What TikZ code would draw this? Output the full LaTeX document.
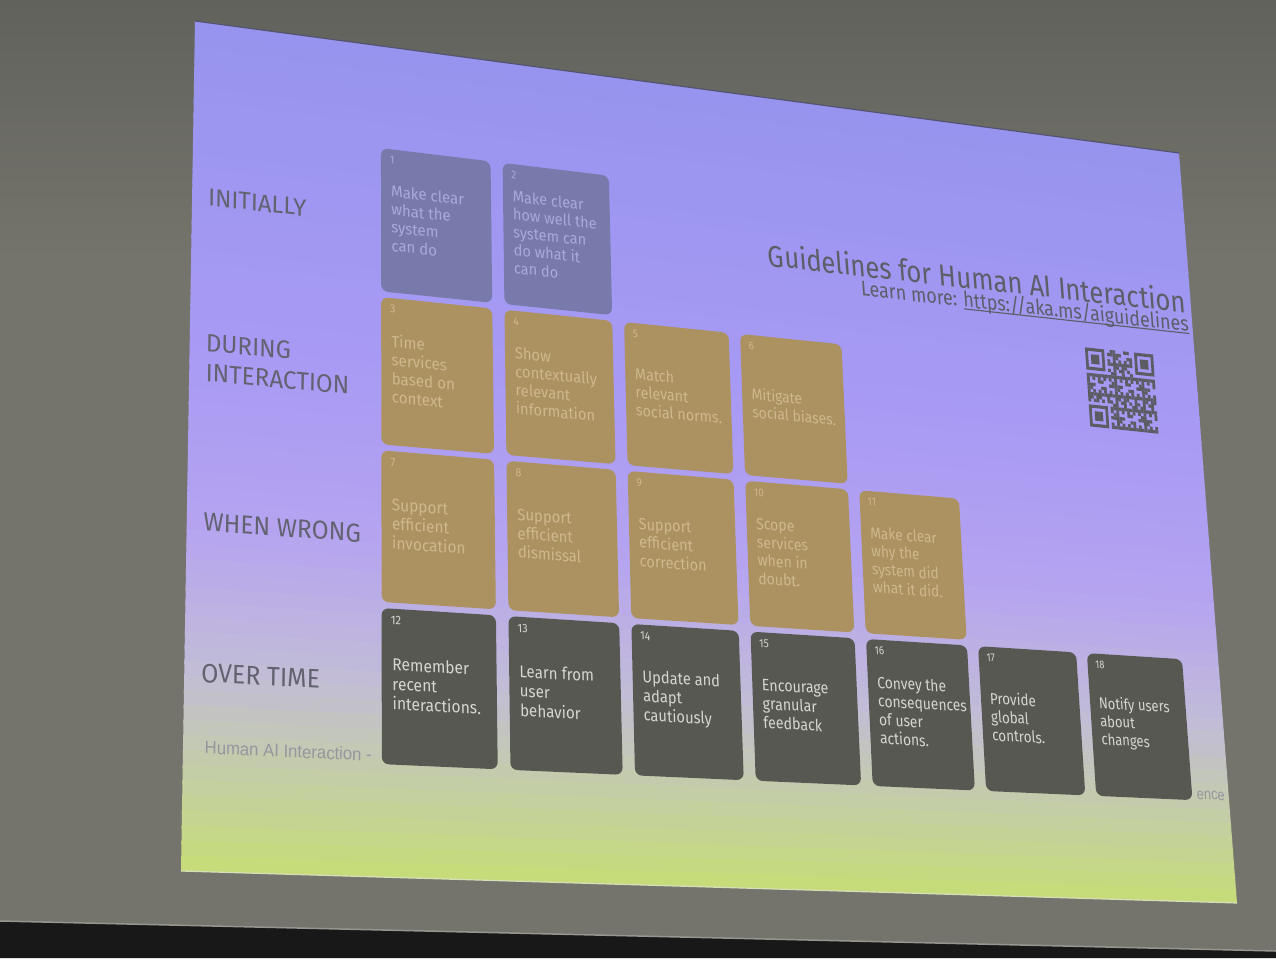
\documentclass[tikz,border=0pt]{standalone}
\usepackage{fontspec}
\usepackage{xfp}
\setmainfont{Fira Sans}
\newfontfamily\footfont{Liberation Sans}

% ---------- colours ----------
\definecolor{wallbase}{RGB}{116,116,108}
\definecolor{walltop}{RGB}{98,98,93}
\definecolor{floorbar}{RGB}{24,24,24}
\definecolor{floorline}{RGB}{150,150,144}
\definecolor{edgetop}{RGB}{84,84,112}
\definecolor{edgebottom}{RGB}{214,224,184}
\definecolor{cardblue}{RGB}{120,122,172}
\definecolor{inkblue}{RGB}{170,170,218}
\definecolor{cardtan}{RGB}{172,146,96}
\definecolor{inktan}{RGB}{206,184,142}
\definecolor{cardgrey}{RGB}{88,88,83}
\definecolor{inkgrey}{RGB}{214,214,206}
\definecolor{labelink}{RGB}{98,98,112}
\definecolor{titleink}{RGB}{94,94,104}
\definecolor{footink}{RGB}{150,150,158}
\definecolor{qrink}{RGB}{92,92,100}

% ---------- projected screen: corners in pixels (x right, y down) ----------
\def\TLx{195}\def\TLy{21}
\def\TRx{1179}\def\TRy{153}
\def\BRx{1237}\def\BRy{903}
\def\BLx{181}\def\BLy{871}

% homography taking the unit square (u right, v down) onto the screen
\edef\dxA{\fpeval{(\TRx)-(\BRx)}}
\edef\dxB{\fpeval{(\BLx)-(\BRx)}}
\edef\dxC{\fpeval{(\TLx)-(\TRx)+(\BRx)-(\BLx)}}
\edef\dyA{\fpeval{(\TRy)-(\BRy)}}
\edef\dyB{\fpeval{(\BLy)-(\BRy)}}
\edef\dyC{\fpeval{(\TLy)-(\TRy)+(\BRy)-(\BLy)}}
\edef\Hden{\fpeval{(\dxA)*(\dyB)-(\dxB)*(\dyA)}}
\edef\Hg{\fpeval{((\dxC)*(\dyB)-(\dxB)*(\dyC))/(\Hden)}}
\edef\Hh{\fpeval{((\dxA)*(\dyC)-(\dxC)*(\dyA))/(\Hden)}}
\edef\Ha{\fpeval{(\TRx)-(\TLx)+(\Hg)*(\TRx)}}
\edef\Hb{\fpeval{(\BLx)-(\TLx)+(\Hh)*(\BLx)}}
\edef\Hd{\fpeval{(\TRy)-(\TLy)+(\Hg)*(\TRy)}}
\edef\He{\fpeval{(\BLy)-(\TLy)+(\Hh)*(\BLy)}}

% (u,v) -> \hx,\hy in picture points (y up)
\newcommand\Hmap[2]{%
  \edef\Hw{\fpeval{(\Hg)*(#1)+(\Hh)*(#2)+1}}%
  \edef\hx{\fpeval{round(((\Ha)*(#1)+(\Hb)*(#2)+(\TLx))/(\Hw),4)}}%
  \edef\hy{\fpeval{round(-((\Hd)*(#1)+(\He)*(#2)+(\TLy))/(\Hw),4)}}}
% slide design units: 1000 wide, 700 high, measured from the top-left corner
\newcommand\Dmap[2]{\Hmap{(#1)/1000}{(#2)/700}}
% local affine frame at design point (X,Y): origin \ox,\oy and axes (\fa,\fb), (\fc,\fd)
\newcommand\Dframe[2]{%
  \Dmap{#1}{#2}\let\ox\hx\let\oy\hy
  \Dmap{#1+1}{#2}\edef\fa{\fpeval{(\hx)-(\ox)}}\edef\fb{\fpeval{(\hy)-(\oy)}}%
  \Dmap{#1}{#2-1}\edef\fc{\fpeval{(\hx)-(\ox)}}\edef\fd{\fpeval{(\hy)-(\oy)}}}

% background band colour, piecewise linear in v
\newcommand\ramp[3]{max(0,min(1,((#1)-(#2))/((#3)-(#2))))}
\newcommand\bandchan[7]{\fpeval{round(#2+(#3-#2)*\ramp{#1}{0}{0.40}+(#4-#3)*\ramp{#1}{0.40}{0.62}+(#5-#4)*\ramp{#1}{0.62}{0.78}+(#6-#5)*\ramp{#1}{0.78}{0.90}+(#7-#6)*\ramp{#1}{0.90}{1})}}

% link with its rule close under the baseline
\newcommand\linkline[1]{\setbox0\hbox{#1}\rlap{\rule[-2.4pt]{\wd0}{1.1pt}}\box0}

\tikzset{
  card num/.style={transform shape, inner sep=0pt, font=\fontsize{10}{12}\selectfont},
  card text/.style={transform shape, inner sep=0pt, align=left, font=\fontsize{14}{16}\selectfont},
  blue card/.style={fill=cardblue, rounded corners=7pt},
  tan card/.style={fill=cardtan, rounded corners=7pt},
  grey card/.style={fill=cardgrey, rounded corners=7pt},
  blue num/.style={card num, text=inkblue},
  tan num/.style={card num, text=inktan},
  grey num/.style={card num, text=inkgrey},
  blue text/.style={card text, text=inkblue},
  tan text/.style={card text, text=inktan},
  grey text/.style={card text, text=inkgrey},
  row label/.style={transform shape, inner sep=0pt, text=labelink, font=\fontsize{21}{22}\selectfont},
  title text/.style={transform shape, inner sep=0pt, text=titleink, font=\fontsize{29.3}{31}\selectfont},
  link text/.style={transform shape, inner sep=0pt, text=titleink, font=\fontsize{20.3}{22}\selectfont},
  foot text/.style={transform shape, inner sep=0pt, text=footink, font=\footfont\fontsize{14}{16}\selectfont},
}

% a text node standing on the slide
\newcommand\slidenode[5]{% X, Y, options, name, text
  \Dframe{#1}{#2}%
  \begin{scope}[cm={\fa,\fb,\fc,\fd,(\ox,\oy)}]
    \node[#3] (#4) at (0,0) {#5};
  \end{scope}}

% one guideline card: column, row, colour set, number, text
\newcommand\guidecard[5]{%
  \pgfmathsetmacro\cardX{170+(#1-1)*114.5}%
  \pgfmathsetmacro\cardY{92+(#2-1)*131}%
  \Dmap{\cardX}{\cardY}\coordinate (c#4nw) at (\hx,\hy);%
  \Dmap{\cardX+103}{\cardY}\coordinate (c#4ne) at (\hx,\hy);%
  \Dmap{\cardX+103}{\cardY+126}\coordinate (c#4se) at (\hx,\hy);%
  \Dmap{\cardX}{\cardY+126}\coordinate (c#4sw) at (\hx,\hy);%
  \fill[#3 card] (c#4nw) -- (c#4ne) -- (c#4se) -- (c#4sw) -- cycle;%
  \Dframe{\cardX+51.5}{\cardY+63}%
  \begin{scope}[cm={\fa,\fb,\fc,\fd,(\ox,\oy)}]
    \node[#3 num, anchor=north west] (num#4) at (-43.5,57) {#4};
    \node[#3 text, anchor=west] (txt#4) at (-42.5,2) {#5};
  \end{scope}}

\begin{document}
\begin{tikzpicture}[x=1pt,y=1pt]
\useasboundingbox (0,0) rectangle (1276,-958);

% wall around the screen
\fill[wallbase] (0,0) rectangle (1276,-958);
\shade[top color=walltop, bottom color=wallbase] (0,0) rectangle (1276,-260);
\coordinate (barL) at (0,-921);
\coordinate (barR) at (1276,-951);
\fill[floorbar] (barL) -- (barR) -- (1276,-958) -- (0,-958) -- cycle;
\draw[floorline, line width=1.5pt] (barL) -- (barR);

% projected slide background, in bands from purple to green
\foreach \i in {0,...,59}{
  \pgfmathsetmacro\va{\i/60}
  \pgfmathsetmacro\vb{min(1,(\i+1)/60+0.004)}
  \pgfmathsetmacro\vm{(\i+0.5)/60}
  \Hmap{0}{\va}\coordinate (b1) at (\hx,\hy);
  \Hmap{1}{\va}\coordinate (b2) at (\hx,\hy);
  \Hmap{1}{\vb}\coordinate (b3) at (\hx,\hy);
  \Hmap{0}{\vb}\coordinate (b4) at (\hx,\hy);
  \edef\br{\bandchan{\vm}{150}{168}{182}{194}{196}{198}}
  \edef\bg{\bandchan{\vm}{148}{154}{164}{189}{207}{220}}
  \edef\bb{\bandchan{\vm}{238}{244}{240}{214}{162}{118}}
  \definecolor{band}{RGB}{\br,\bg,\bb}
  \fill[band] (b1) -- (b2) -- (b3) -- (b4) -- cycle;
}
\Hmap{0}{0}\coordinate (s-tl) at (\hx,\hy);
\Hmap{1}{0}\coordinate (s-tr) at (\hx,\hy);
\Hmap{1}{1}\coordinate (s-br) at (\hx,\hy);
\Hmap{0}{1}\coordinate (s-bl) at (\hx,\hy);
\draw[edgetop, line width=1.2pt] (s-tl) -- (s-tr);
\draw[edgebottom, line width=1.2pt] (s-bl) -- (s-br);

% row labels
\slidenode{14}{160}{row label, anchor=base west}{initially}{INITIALLY}
\slidenode{14}{284}{row label, anchor=base west}{during}{DURING}
\slidenode{14}{309}{row label, anchor=base west}{interaction}{INTERACTION}
\slidenode{14}{432}{row label, anchor=base west}{whenwrong}{WHEN WRONG}
\slidenode{14}{553}{row label, anchor=base west}{overtime}{OVER TIME}
\slidenode{18}{609}{foot text, anchor=base west}{footer}{Human AI Interaction -}
\slidenode{965}{610}{foot text, anchor=base west}{footright}{ence}

% title and link
\slidenode{995}{158}{title text, anchor=base east}{title}{Guidelines for Human AI Interaction}
\slidenode{996}{176}{link text, anchor=base east}{learnmore}{Learn more: \linkline{https://aka.ms/aiguidelines}}

% QR code
\Dframe{877}{202}
\begin{scope}[cm={\fa,\fb,\fc,\fd,(\ox,\oy)}, x=3pt, y=3pt]
  \foreach \fx/\fy in {0/0, 18/0, 0/18}{
    \fill[qrink, even odd rule] (\fx,-\fy) rectangle ++(7,-7)
      (\fx+1,-\fy-1) rectangle ++(5,-5) (\fx+2,-\fy-2) rectangle ++(3,-3);
  }
  \foreach \i in {0,...,24}{
    \foreach \j in {0,...,24}{
      \pgfmathtruncatemacro\qzone{(\i<8 && \j<8) || (\i>16 && \j<8) || (\i<8 && \j>16)}
      \pgfmathtruncatemacro\qbit{mod(\i*\i*3+\j*\j*5+\i*\j*7+3*\i+5*\j,10)<5}
      \ifnum\qzone=0 \ifnum\qbit=1
        \fill[qrink] (\i,-\j) rectangle ++(1.03,-1.03);
      \fi\fi
    }
  }
\end{scope}

% the eighteen guidelines
\guidecard{1}{1}{blue}{1}{Make clear\\what the\\system\\can do}
\guidecard{2}{1}{blue}{2}{Make clear\\how well the\\system can\\do what it\\can do}
\guidecard{1}{2}{tan}{3}{Time\\services\\based on\\context}
\guidecard{2}{2}{tan}{4}{Show\\contextually\\relevant\\information}
\guidecard{3}{2}{tan}{5}{Match\\relevant\\social norms.}
\guidecard{4}{2}{tan}{6}{Mitigate\\social biases.}
\guidecard{1}{3}{tan}{7}{Support\\efficient\\invocation}
\guidecard{2}{3}{tan}{8}{Support\\efficient\\dismissal}
\guidecard{3}{3}{tan}{9}{Support\\efficient\\correction}
\guidecard{4}{3}{tan}{10}{Scope\\services\\when in\\doubt.}
\guidecard{5}{3}{tan}{11}{Make clear\\why the\\system did\\what it did.}
\guidecard{1}{4}{grey}{12}{Remember\\recent\\interactions.}
\guidecard{2}{4}{grey}{13}{Learn from\\user\\behavior}
\guidecard{3}{4}{grey}{14}{Update and\\adapt\\cautiously}
\guidecard{4}{4}{grey}{15}{Encourage\\granular\\feedback}
\guidecard{5}{4}{grey}{16}{Convey the\\consequences\\of user\\actions.}
\guidecard{6}{4}{grey}{17}{Provide\\global\\controls.}
\guidecard{7}{4}{grey}{18}{Notify users\\about\\changes}
\end{tikzpicture}
\end{document}
